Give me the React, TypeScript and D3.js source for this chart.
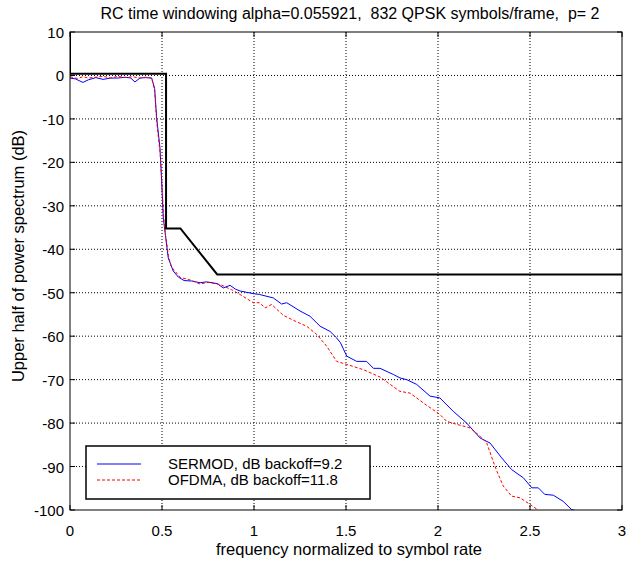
import React from "react";
import * as d3 from "d3";

const xTicks = [0, 0.5, 1, 1.5, 2, 2.5, 3];
const yTicks = [10, 0, -10, -20, -30, -40, -50, -60, -70, -80, -90, -100];

const sermodF = [0, 0.03, 0.07, 0.1, 0.14, 0.18, 0.22, 0.26, 0.3, 0.33, 0.353, 0.38, 0.41, 0.444, 0.46, 0.471, 0.489, 0.498, 0.507, 0.516, 0.534, 0.561, 0.589, 0.62, 0.66, 0.707, 0.742, 0.8, 0.833, 0.87, 0.9, 0.924, 0.996, 1.03, 1.105, 1.15, 1.178, 1.25, 1.304, 1.359, 1.413, 1.449, 1.47, 1.504, 1.558, 1.612, 1.649, 1.685, 1.757, 1.793, 1.83, 1.884, 1.957, 2.01, 2.083, 2.156, 2.228, 2.283, 2.346, 2.4, 2.464, 2.51, 2.545, 2.58, 2.627, 2.68, 2.726, 2.763];
const sermodDb = [-0.6, -0.8, -1.6, -1.0, -0.5, -0.9, -0.6, -0.6, -0.4, -0.6, -1.5, -0.6, -0.5, -0.6, -3, -9.8, -16.7, -24.3, -32.8, -35.8, -42, -45, -46.4, -47.2, -47.3, -47.7, -47.5, -47.9, -48.9, -48.3, -49.2, -49.6, -50.2, -50.4, -51.2, -52.6, -52.3, -54.2, -55.4, -57.7, -58.9, -60.4, -61.5, -64.6, -65.8, -65.8, -67.4, -67.4, -68.8, -69.6, -70, -71.1, -73.8, -74.2, -77.3, -80, -83.4, -84.6, -88, -90.7, -92.6, -94.9, -94.9, -96.4, -96.6, -98, -99.9, -100.3];

const ofdmaF = [0, 0.04, 0.07, 0.1, 0.14, 0.18, 0.22, 0.26, 0.3, 0.34, 0.38, 0.41, 0.444, 0.46, 0.472, 0.49, 0.5, 0.508, 0.518, 0.535, 0.55, 0.6, 0.65, 0.707, 0.75, 0.815, 0.878, 0.924, 0.996, 1.03, 1.06, 1.096, 1.159, 1.232, 1.286, 1.341, 1.395, 1.449, 1.504, 1.594, 1.685, 1.793, 1.848, 1.938, 2.01, 2.047, 2.12, 2.174, 2.228, 2.265, 2.3, 2.32, 2.355, 2.4, 2.446, 2.5, 2.554];
const ofdmaDb = [-0.3, -0.7, -0.3, -0.6, -0.4, -0.2, -0.6, -0.2, -0.5, -0.3, -0.6, -0.4, -0.6, -3.5, -11, -18, -25, -32, -36.5, -41.5, -44, -46.5, -47, -48, -47.6, -48.1, -49.3, -50.4, -52.3, -52.3, -53.5, -52.7, -55.2, -56.7, -57.7, -59.6, -62.3, -65.8, -66.5, -67.7, -69.4, -72.7, -73.1, -75.9, -78, -79.6, -80.5, -81.1, -83, -84.6, -88.8, -91.1, -94.5, -96.8, -97.2, -98.7, -100.3];

const maskF = [0, 0, 0.522, 0.522, 0.6, 0.8, 3];
const maskDb = [10, 0.4, 0.4, -35.2, -35.2, -45.8, -45.8];

const W = 626, H = 565;
const L = 70, R = 622, T = 32, B = 510;
const font = "Arial, 'Liberation Sans', sans-serif";

export default function App() {
  const x = d3.scaleLinear().domain([0, 3]).range([L, R]);
  const y = d3.scaleLinear().domain([-100, 10]).range([B, T]);
  const line = d3.line<[number, number]>().x((d) => x(d[0])).y((d) => y(d[1]));
  const sermod = sermodF.map((f, i) => [f, sermodDb[i]] as [number, number]);
  const ofdma = ofdmaF.map((f, i) => [f, ofdmaDb[i]] as [number, number]);
  const mask = maskF.map((f, i) => [f, maskDb[i]] as [number, number]);
  return (
    <svg width={W} height={H} style={{ position: "absolute", left: 0, top: 0, background: "#fff" }} fontFamily={font}>
      <defs>
        <clipPath id="plot">
          <rect x={L} y={T} width={R - L} height={B - T} />
        </clipPath>
      </defs>
      <rect x={0} y={0} width={W} height={H} fill="#fff" />
      {xTicks.slice(1, -1).map((t) => (
        <line key={"gx" + t} x1={x(t)} x2={x(t)} y1={T} y2={B} stroke="#000" strokeWidth={1} strokeDasharray="1 2" />
      ))}
      {yTicks.slice(1, -1).map((t) => (
        <line key={"gy" + t} x1={L} x2={R} y1={y(t)} y2={y(t)} stroke="#000" strokeWidth={1} strokeDasharray="1 2" />
      ))}
      {xTicks.map((t) => (
        <g key={"tx" + t}>
          <line x1={x(t)} x2={x(t)} y1={B} y2={B - 5} stroke="#000" />
          <line x1={x(t)} x2={x(t)} y1={T} y2={T + 5} stroke="#000" />
          <text x={x(t)} y={B + 26} textAnchor="middle" fontSize={15}>{t}</text>
        </g>
      ))}
      {yTicks.map((t) => (
        <g key={"ty" + t}>
          <line x1={L} x2={L + 5} y1={y(t)} y2={y(t)} stroke="#000" />
          <line x1={R} x2={R - 5} y1={y(t)} y2={y(t)} stroke="#000" />
          <text x={L - 6} y={y(t) + 6} textAnchor="end" fontSize={15}>{t}</text>
        </g>
      ))}
      <g clipPath="url(#plot)">
        <path d={line(sermod) || ""} fill="none" stroke="#0000ff" strokeWidth={1} />
        <path d={line(ofdma) || ""} fill="none" stroke="#ff0000" strokeWidth={1} strokeDasharray="3 2" />
        <path d={line(mask) || ""} fill="none" stroke="#000" strokeWidth={2} />
      </g>
      <rect x={L} y={T} width={R - L} height={B - T} fill="none" stroke="#000" strokeWidth={1} />
      <rect x={86} y={446} width={284} height={53} fill="#fff" stroke="#000" strokeWidth={1.5} />
      <line x1={97} x2={141} y1={464} y2={464} stroke="#0000ff" strokeWidth={1} />
      <line x1={97} x2={141} y1={480} y2={480} stroke="#ff0000" strokeWidth={1} strokeDasharray="3 2" />
      <text x={168} y={469} fontSize={15}>SERMOD, dB backoff=9.2</text>
      <text x={168} y={485} fontSize={15}>OFDMA, dB backoff=11.8</text>
      <text x={350} y={19} textAnchor="middle" fontSize={16} style={{ whiteSpace: "pre" }}>RC time windowing alpha=0.055921,  832 QPSK symbols/frame,  p= 2</text>
      <text x={349} y={555} textAnchor="middle" fontSize={16.5}>frequency normalized to symbol rate</text>
      <text transform={`translate(24,256) rotate(-90)`} textAnchor="middle" fontSize={16.5}>Upper half of power spectrum (dB)</text>
    </svg>
  );
}
